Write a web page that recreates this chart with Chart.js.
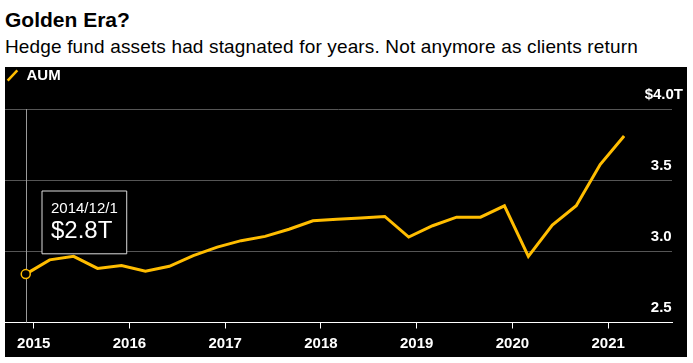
<!DOCTYPE html>
<html>
<head>
<meta charset="utf-8">
<script src="https://cdn.jsdelivr.net/npm/chart.js@4"></script>
<style>
  html, body { margin: 0; padding: 0; background: #fff; }
  body { width: 693px; height: 363px; position: relative; overflow: hidden;
         font-family: "Liberation Sans", Arial, sans-serif; }
  #title { position: absolute; left: 5px; top: 9px; font-size: 21px; line-height: 1; font-weight: bold; color: #000; }
  #sub { position: absolute; left: 5px; top: 37px; font-size: 19px; line-height: 1; letter-spacing: 0.15px; color: #000; }
  #panel { position: absolute; left: 5px; top: 67px; width: 682px; height: 290px; background: #000; }
</style>
</head>
<body>
<div id="title">Golden Era?</div>
<div id="sub">Hedge fund assets had stagnated for years. Not anymore as clients return</div>
<div id="panel"><canvas id="chart" width="682" height="290"></canvas></div>
<script>
const GOLD = '#ffbd00';

// quarterly observations, trillions of dollars
const dates = [
  '2014/12/1', '2015/3/1', '2015/6/1', '2015/9/1', '2015/12/1',
  '2016/3/1', '2016/6/1', '2016/9/1', '2016/12/1',
  '2017/3/1', '2017/6/1', '2017/9/1', '2017/12/1',
  '2018/3/1', '2018/6/1', '2018/9/1', '2018/12/1',
  '2019/3/1', '2019/6/1', '2019/9/1', '2019/12/1',
  '2020/3/1', '2020/6/1', '2020/9/1', '2020/12/1',
  '2021/3/1'
];
const aum = [
  2.84, 2.94, 2.965, 2.88, 2.90,
  2.86, 2.895, 2.97, 3.03,
  3.075, 3.105, 3.155, 3.215,
  3.225, 3.235, 3.245, 3.10,
  3.18, 3.24, 3.24, 3.32,
  2.965, 3.185, 3.32, 3.61,
  3.81
];
const yearTicks = [2015, 2016, 2017, 2018, 2019, 2020, 2021];
const valueTicks = [2.5, 3.0, 3.5, 4.0];

function toYear(d) {
  // "2015/3/1" -> 2015.1667
  const p = d.split('/');
  return parseInt(p[0], 10) + (parseInt(p[1], 10) - 1) / 12;
}

Chart.defaults.font.family = '"Liberation Sans", Arial, sans-serif';

const tooltipPlugin = Chart.registry.getPlugin('tooltip');
tooltipPlugin.positioners.fixedBox = function () {
  const a = this.chart.chartArea;
  return { x: a.left + 37, y: a.top + 82 };
};

// leave a gap under the legend
const legendGap = {
  id: 'legendGap',
  beforeInit(chart) {
    const fit = chart.legend.fit;
    chart.legend.fit = function () {
      fit.call(this);
      this.height += 16;
    };
  }
};

// vertical guide through the highlighted point
const crosshair = {
  id: 'crosshair',
  beforeDatasetsDraw(chart) {
    const pt = chart.getDatasetMeta(0).data[0];
    const { top, bottom } = chart.chartArea;
    const x = Math.round(pt.x) + 0.5;
    const ctx = chart.ctx;
    ctx.save();
    ctx.strokeStyle = '#9a9a9a';
    ctx.lineWidth = 1;
    ctx.beginPath();
    ctx.moveTo(x, top);
    ctx.lineTo(x, bottom);
    ctx.stroke();
    ctx.restore();
  }
};

const chart = new Chart(document.getElementById('chart'), {
  type: 'line',
  data: {
    datasets: [{
      label: 'AUM',
      data: dates.map((d, i) => ({ x: toYear(d), y: aum[i] })),
      borderColor: GOLD,
      borderWidth: 3,
      tension: 0,
      pointRadius: c => c.dataIndex === 0 ? 4.5 : 0,
      pointHoverRadius: c => c.dataIndex === 0 ? 4.5 : 0,
      pointBackgroundColor: '#000',
      pointBorderColor: GOLD,
      pointBorderWidth: 1.5,
      pointHoverBorderWidth: 1.5,
    }],
  },
  options: {
    responsive: false,
    animation: false,
    events: [],
    layout: { autoPadding: false, padding: { top: 0, right: -7, bottom: -2.5, left: 0 } },
    scales: {
      x: {
        type: 'linear',
        min: 2014.7,
        max: 2021.667,
        afterBuildTicks: s => { s.ticks = yearTicks.map(v => ({ value: v })); },
        ticks: {
          color: '#fff',
          font: { size: 15, weight: 'bold' },
          padding: 6.5,
          maxRotation: 0,
          autoSkip: false,
          callback: v => String(v),
        },
        grid: { drawOnChartArea: false, drawTicks: true, tickLength: 6, color: '#fff' },
        border: { color: '#fff', width: 1 },
      },
      y: {
        position: 'right',
        min: 2.5,
        max: 4.0,
        afterBuildTicks: s => { s.ticks = valueTicks.map(v => ({ value: v })); },
        ticks: {
          mirror: true,
          padding: 11,
          labelOffset: -14.5,
          color: '#fff',
          font: { size: 15, weight: 'bold' },
          callback: v => v === 4 ? '$4.0T' : v.toFixed(1) + '\u2007\u2009',
        },
        grid: {
          drawTicks: false,
          color: c => c.tick && c.tick.value === 2.5 ? '#fff' : '#555',
          lineWidth: 1,
        },
        border: { display: false },
      },
    },
    plugins: {
      legend: {
        display: true,
        position: 'top',
        align: 'start',
        labels: {
          usePointStyle: true,
          boxWidth: 13,
          boxHeight: 10,
          padding: 1,
          color: '#fff',
          font: { size: 15, weight: 'bold' },
          generateLabels: () => [{
            text: 'AUM',
            pointStyle: 'line',
            rotation: -47,
            strokeStyle: GOLD,
            fillStyle: GOLD,
            lineWidth: 2.5,
            fontColor: '#fff',
            hidden: false,
            datasetIndex: 0,
          }],
        },
      },
      tooltip: {
        enabled: true,
        animation: false,
        position: 'fixedBox',
        xAlign: 'left',
        yAlign: 'top',
        caretSize: 0,
        caretPadding: 0,
        cornerRadius: 0,
        backgroundColor: '#000',
        borderColor: '#dcdcdc',
        borderWidth: 1,
        displayColors: false,
        padding: { top: 10.5, bottom: 8.5, left: 9, right: 9 },
        titleFont: { size: 15, weight: 'normal', lineHeight: 1.0 },
        titleColor: '#fff',
        titleMarginBottom: 0,
        bodyFont: { size: 24, weight: 'normal' },
        bodyColor: '#fff',
        callbacks: {
          title: items => dates[items[0].dataIndex],
          label: item => '$' + item.parsed.y.toFixed(1) + 'T',
        },
      },
    },
  },
  plugins: [crosshair, legendGap],
});

chart.tooltip.setActiveElements([{ datasetIndex: 0, index: 0 }], { x: 0, y: 0 });
chart.update();
</script>
</body>
</html>
